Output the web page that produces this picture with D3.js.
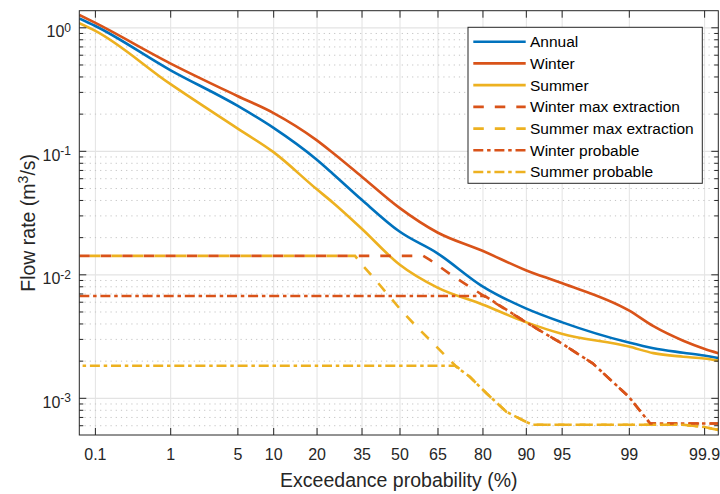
<!DOCTYPE html>
<html>
<head>
<meta charset="utf-8">
<script src="https://cdn.jsdelivr.net/npm/d3@7"></script>
<style>
  body { margin: 0; background: #fff; }
  svg { font-family: "Liberation Sans", Arial, sans-serif; }
</style>
</head>
<body>
<svg id="chart" width="720" height="494"></svg>
<script>
// exceedance probability (%) shared by the three flow duration curves
const exceed = [0.058, 0.1, 1, 5, 10, 20, 25, 35, 50, 65, 80, 90, 95, 99, 99.5, 99.8, 99.9, 99.939];
const annual = [1.18, 1.03, 0.451, 0.232, 0.154, 0.085, 0.065, 0.0403, 0.0222, 0.0148, 0.008, 0.0053, 0.0041, 0.0028, 0.00252, 0.00232, 0.0022, 0.0021];
const winter = [1.26, 1.09, 0.511, 0.278, 0.203, 0.122, 0.096, 0.062, 0.0345, 0.0218, 0.0155, 0.0108, 0.0085, 0.0051, 0.0038, 0.0029, 0.0025, 0.0023];
const summer = [1.08, 0.94, 0.348, 0.152, 0.098, 0.049, 0.038, 0.0235, 0.012, 0.0078, 0.0057, 0.0041, 0.0033, 0.0026, 0.0023, 0.00215, 0.00208, 0.002];

// extraction curves have their own breakpoints
const winterMaxP = [0.058, 59.5, 62.1, 70, 80.7, 90, 95, 97.5, 99, 99.45, 99.939];
const winterMaxQ = [0.0141, 0.0141, 0.0131, 0.0099, 0.0066, 0.0041, 0.00276, 0.0019, 0.00102, 0.00062, 0.00062];
const summerMaxP = [0.058, 32.6, 35, 40.8, 50, 56.9, 63.4, 68.3, 71.5, 76.2, 81.1, 86.1, 90, 91.2, 99.8, 99.9, 99.939];
const summerMaxQ = [0.0141, 0.0141, 0.0121, 0.0088, 0.0053, 0.00376, 0.00276, 0.00215, 0.00182, 0.00148, 0.00109, 0.00077, 0.00064, 0.000605, 0.000605, 0.00058, 0.00055];
const winterProbP = [0.058, 80.7, 90, 95, 97.5, 99, 99.45, 99.939];
const winterProbQ = [0.00667, 0.00667, 0.0041, 0.00276, 0.0019, 0.00102, 0.00062, 0.00062];
const summerProbP = [0.058, 71.3, 76.2, 81.1, 86.1, 90, 91.2, 99.8, 99.9, 99.939];
const summerProbQ = [0.00182, 0.00182, 0.00148, 0.00109, 0.00077, 0.00064, 0.000605, 0.000605, 0.00058, 0.00055];

const names = ["Annual", "Winter", "Summer", "Winter max extraction", "Summer max extraction", "Winter probable", "Summer probable"];
const xTicks = [0.1, 1, 5, 10, 20, 35, 50, 65, 80, 90, 95, 99, 99.9];
const yTicks = [1e-3, 1e-2, 1e-1, 1];
const yLimits = [5e-4, 1.363];

const m = { left: 79.3, right: 718.3, top: 10.7, bottom: 435 };
const ink = "#262626";
const blue = "#0072bd", red = "#d95319", yellow = "#edb120";

// inverse normal cdf (Acklam)
function probit(p) {
  const a = [-39.69683028665376, 220.9460984245205, -275.9285104469687, 138.357751867269, -30.66479806614716, 2.506628277459239];
  const b = [-54.47609879822406, 161.5858368580409, -155.6989798598866, 66.80131188771972, -13.28068155288572];
  const c = [-0.007784894002430293, -0.3223964580411365, -2.400758277161838, -2.549732539343734, 4.374664141464968, 2.938163982698783];
  const d = [0.007784695709041462, 0.3224671290700398, 2.445134137142996, 3.754408661907416];
  const lo = 0.02425;
  if (p < lo || p > 1 - lo) {
    const q = Math.sqrt(-2 * Math.log(p < lo ? p : 1 - p));
    const v = (((((c[0] * q + c[1]) * q + c[2]) * q + c[3]) * q + c[4]) * q + c[5]) /
      ((((d[0] * q + d[1]) * q + d[2]) * q + d[3]) * q + 1);
    return p < lo ? v : -v;
  }
  const q = p - 0.5, r = q * q;
  return (((((a[0] * r + a[1]) * r + a[2]) * r + a[3]) * r + a[4]) * r + a[5]) * q /
    (((((b[0] * r + b[1]) * r + b[2]) * r + b[3]) * r + b[4]) * r + 1);
}

const svg = d3.select("#chart");

const zScale = d3.scaleLinear()
  .domain([probit(exceed[0] / 100), probit(exceed[exceed.length - 1] / 100)])
  .range([m.left, m.right]);
const x = (p) => zScale(probit(p / 100));
const y = d3.scaleLog().domain(yLimits).range([m.bottom, m.top]);

const xTickZ = xTicks.map((p) => probit(p / 100));
const yMinor = y.ticks().filter((v) => !yTicks.includes(v) && v > yLimits[0]);
const ph = m.bottom - m.top, pw = m.right - m.left;

// grid
svg.append("g")
  .attr("transform", `translate(0,${m.bottom})`)
  .call(d3.axisBottom(zScale).tickValues(xTickZ).tickSize(-ph).tickFormat(""))
  .call((g) => g.select(".domain").remove())
  .selectAll("line").attr("stroke", "#e3e3e3").attr("stroke-width", 1);
svg.append("g")
  .attr("transform", `translate(${m.left},0)`)
  .call(d3.axisLeft(y).tickValues(yMinor).tickSize(-pw).tickFormat(""))
  .call((g) => g.select(".domain").remove())
  .selectAll("line").attr("stroke", "#c4c4c4").attr("stroke-width", 1).attr("stroke-dasharray", "1.2,4");
svg.append("g")
  .attr("transform", `translate(${m.left},0)`)
  .call(d3.axisLeft(y).tickValues(yTicks).tickSize(-pw).tickFormat(""))
  .call((g) => g.select(".domain").remove())
  .selectAll("line").attr("stroke", "#e3e3e3").attr("stroke-width", 1.3);

// curves
svg.append("clipPath").attr("id", "plotClip")
  .append("rect").attr("x", m.left).attr("y", m.top).attr("width", pw).attr("height", ph);

const pairs = (ps, qs) => ps.map((p, i) => [p, qs[i]]);
const series = [
  { name: names[0], pts: pairs(exceed, annual), color: blue, dash: null, smooth: true },
  { name: names[1], pts: pairs(exceed, winter), color: red, dash: null, smooth: true },
  { name: names[2], pts: pairs(exceed, summer), color: yellow, dash: null, smooth: true },
  { name: names[3], pts: pairs(winterMaxP, winterMaxQ), color: red, dash: "10.5,11", off: 0 },
  { name: names[4], pts: pairs(summerMaxP, summerMaxQ), color: yellow, dash: "10.5,11", off: 10.8 },
  { name: names[5], pts: pairs(winterProbP, winterProbQ), color: red, dash: "10,3.8,3.5,3.8", off: 0 },
  { name: names[6], pts: pairs(summerProbP, summerProbQ), color: yellow, dash: "10,3.8,3.5,3.8", off: 10.5 },
];

const lineGen = d3.line().x((d) => x(d[0])).y((d) => y(d[1]));

svg.append("g").attr("clip-path", "url(#plotClip)")
  .selectAll("path")
  .data(series)
  .join("path")
  .attr("d", (s) => lineGen.curve(s.smooth ? d3.curveMonotoneX : d3.curveLinear)(s.pts))
  .attr("fill", "none")
  .attr("stroke", (s) => s.color)
  .attr("stroke-width", 2.6)
  .attr("stroke-dasharray", (s) => s.dash)
  .attr("stroke-dashoffset", (s) => s.off || 0);

// box and inward ticks
svg.append("rect")
  .attr("x", m.left).attr("y", m.top).attr("width", pw).attr("height", ph)
  .attr("fill", "none").attr("stroke", ink).attr("stroke-width", 1);

function tickAxis(axis, tx, ty, labels) {
  const g = svg.append("g").attr("transform", `translate(${tx},${ty})`).call(axis);
  g.select(".domain").remove();
  g.selectAll("line").attr("stroke", ink);
  if (!labels) g.selectAll("text").remove();
  return g;
}
const xAxis = tickAxis(
  d3.axisBottom(zScale).tickValues(xTickZ).tickSize(-7).tickPadding(13.5).tickFormat((d, i) => xTicks[i]),
  0, m.bottom, true);
xAxis.selectAll("text").attr("fill", ink).style("font-size", "16px");
tickAxis(d3.axisTop(zScale).tickValues(xTickZ).tickSize(-7), 0, m.top, false);
tickAxis(d3.axisLeft(y).tickValues(yTicks).tickSize(-7), m.left, 0, false);
tickAxis(d3.axisLeft(y).tickValues(yMinor).tickSize(-4), m.left, 0, false);
tickAxis(d3.axisRight(y).tickValues(yTicks).tickSize(-7), m.right, 0, false);
tickAxis(d3.axisRight(y).tickValues(yMinor).tickSize(-4), m.right, 0, false);

// y tick labels as 10^k
const yLab = svg.append("g").selectAll("text")
  .data(yTicks)
  .join("text")
  .attr("x", 71)
  .attr("y", (d) => y(d) + 10)
  .attr("text-anchor", "end")
  .attr("fill", ink)
  .style("font-size", "16px");
yLab.append("tspan").text("10");
yLab.append("tspan")
  .attr("dy", -5.5)
  .style("font-size", "12px")
  .text((d) => Math.round(Math.log10(d)));

// axis titles
svg.append("text")
  .attr("x", (m.left + m.right) / 2)
  .attr("y", 487)
  .attr("text-anchor", "middle")
  .attr("fill", ink)
  .style("font-size", "19.5px")
  .text("Exceedance probability (%)");

const yTitle = svg.append("text")
  .attr("transform", `translate(35,${(m.top + m.bottom) / 2}) rotate(-90)`)
  .attr("text-anchor", "middle")
  .attr("fill", ink)
  .style("font-size", "19.5px");
yTitle.append("tspan").text("Flow rate (m");
yTitle.append("tspan").attr("dy", -7).style("font-size", "14px").text("3");
yTitle.append("tspan").attr("dy", 7).text("/s)");

// legend
const lg = svg.append("g");
lg.append("rect")
  .attr("x", 468).attr("y", 27.3).attr("width", 234.3).attr("height", 156)
  .attr("fill", "#fff").attr("stroke", ink).attr("stroke-width", 1);
const item = lg.selectAll("g.item")
  .data(series)
  .join("g")
  .attr("class", "item")
  .attr("transform", (d, i) => `translate(0,${41.7 + i * 21.72})`);
item.append("line")
  .attr("x1", 473.3).attr("x2", 525.7)
  .attr("stroke", (s) => s.color)
  .attr("stroke-width", 2.6)
  .attr("stroke-dasharray", (s) => s.dash);
item.append("text")
  .attr("x", 530)
  .attr("dy", "0.35em")
  .attr("fill", "#000")
  .style("font-size", "15.5px")
  .text((s) => s.name);
</script>
</body>
</html>
